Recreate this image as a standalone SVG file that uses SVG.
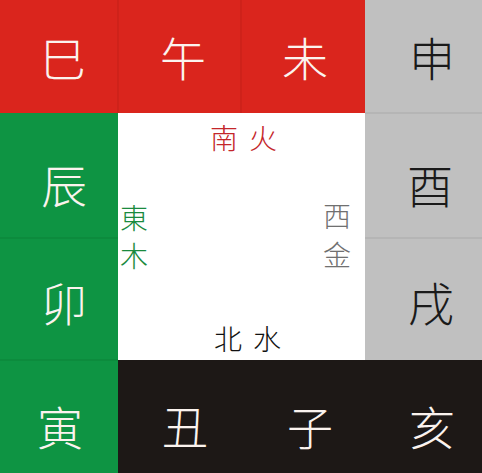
<svg xmlns="http://www.w3.org/2000/svg" width="482" height="473" viewBox="0 0 482 473">
<style>
.big{font-family:"Noto Sans CJK SC","Noto Sans CJK TC",sans-serif;font-size:46px;font-weight:300;text-anchor:middle;dominant-baseline:central}
.small{font-family:"Noto Sans CJK SC","Noto Sans CJK TC",sans-serif;font-size:28px;font-weight:300;text-anchor:middle;dominant-baseline:central}
.red{fill:#da251d}.green{fill:#0e9443}.gray{fill:#c0c0c0}.black{fill:#1d1816}
.div{stroke-width:1}
.wt{fill:#fbf3ee}.bt{fill:#1a1a1a}
</style>
<rect x="0" y="0" width="482" height="473" fill="#ffffff"/>
<g id="si"><rect class="red" x="0" y="0" width="118" height="113"/><text class="big wt" x="63" y="56">巳</text></g>
<g id="wu"><rect class="red" x="118" y="0" width="123" height="113"/><text class="big wt" x="183" y="56">午</text></g>
<g id="wei"><rect class="red" x="241" y="0" width="124" height="113"/><text class="big wt" x="305" y="56">未</text></g>
<g id="shen"><rect class="gray" x="365" y="0" width="117" height="113"/><text class="big bt" x="432" y="56">申</text></g>
<g id="chen"><rect class="green" x="0" y="113" width="118" height="125"/><text class="big wt" x="64" y="183">辰</text></g>
<g id="you"><rect class="gray" x="365" y="113" width="117" height="125"/><text class="big bt" x="430" y="183">酉</text></g>
<g id="mao"><rect class="green" x="0" y="238" width="118" height="122"/><text class="big wt" x="64" y="301">卯</text></g>
<g id="xu"><rect class="gray" x="365" y="238" width="117" height="122"/><text class="big bt" x="431" y="301">戌</text></g>
<g id="yin"><rect class="green" x="0" y="360" width="118" height="113"/><text class="big wt" x="60" y="425">寅</text></g>
<g id="chou"><rect class="black" x="118" y="360" width="123" height="113"/><text class="big wt" x="185" y="424">丑</text></g>
<g id="zi"><rect class="black" x="241" y="360" width="124" height="113"/><text class="big wt" x="310" y="425">子</text></g>
<g id="hai"><rect class="black" x="365" y="360" width="117" height="113"/><text class="big wt" x="432" y="425">亥</text></g>
<g id="center">
<text class="small" x="224" y="137" fill="#c4262a">南</text>
<text class="small" x="263" y="137" fill="#c4262a">火</text>
<text class="small" x="134" y="217" fill="#1a8a3e">東</text>
<text class="small" x="134" y="255" fill="#1a8a3e">木</text>
<text class="small" x="337" y="215" fill="#707070">西</text>
<text class="small" x="337" y="254" fill="#707070">金</text>
<text class="small" x="228" y="338" fill="#111111">北</text>
<text class="small" x="267" y="338" fill="#111111">水</text>
</g>
<g id="connectors" class="div">
<line x1="118" y1="0" x2="118" y2="113" stroke="#c32019"/>
<line x1="241" y1="0" x2="241" y2="113" stroke="#c32019"/>
<line x1="365" y1="113" x2="482" y2="113" stroke="#aaaaaa"/>
<line x1="365" y1="238" x2="482" y2="238" stroke="#aaaaaa"/>
<line x1="0" y1="238" x2="118" y2="238" stroke="#0b8239"/>
<line x1="0" y1="360" x2="118" y2="360" stroke="#0b8239"/>
</g>
</svg>
